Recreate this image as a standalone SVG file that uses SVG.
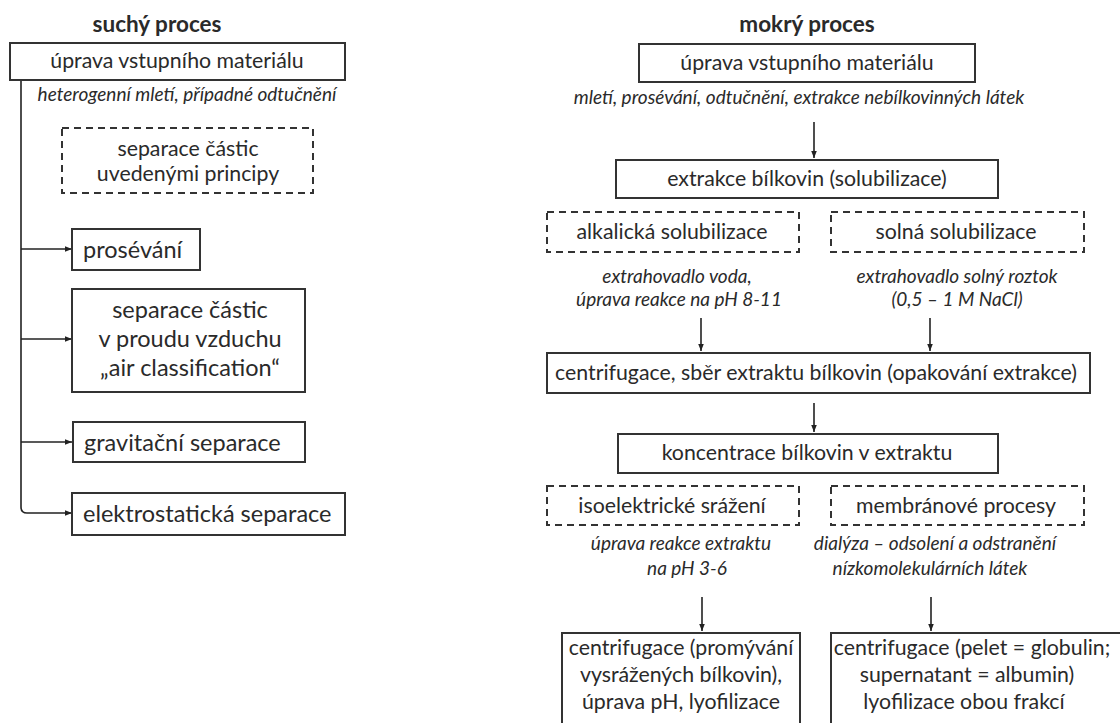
<svg xmlns="http://www.w3.org/2000/svg" width="1120" height="723" viewBox="0 0 1120 723">
<defs>
<marker id="ah" viewBox="0 0 10 10" refX="10" refY="5" markerWidth="7" markerHeight="7" markerUnits="userSpaceOnUse" orient="auto">
<path d="M0,1 L10,5 L0,9 z" fill="#222"/>
</marker>
<style>
.box{fill:#fff;stroke:#333;stroke-width:2}
.dash{fill:#fff;stroke:#333;stroke-width:2;stroke-dasharray:7 5}
.t{font-family:Lato,"Liberation Sans",sans-serif;font-size:21.3px;fill:#2a2a2a}
.tl{font-family:Lato,"Liberation Sans",sans-serif;font-size:23.5px;fill:#2a2a2a}
.c{text-anchor:middle}
.it{font-family:Lato,"Liberation Sans",sans-serif;font-size:19px;font-style:italic;fill:#2a2a2a;text-anchor:middle}
.h{font-family:Lato,"Liberation Sans",sans-serif;font-size:22.5px;font-weight:bold;fill:#2a2a2a;text-anchor:middle}
.ln{fill:none;stroke:#222;stroke-width:1.6}
</style>
</defs>
<rect width="1120" height="723" fill="#fff"/>

<g id="connectors">
<path class="ln" d="M21,80 V507 Q21,513 27,513 H72" marker-end="url(#ah)"/>
<path class="ln" d="M21,249 H72" marker-end="url(#ah)"/>
<path class="ln" d="M21,339 H72" marker-end="url(#ah)"/>
<path class="ln" d="M21,442 H72" marker-end="url(#ah)"/>
<path class="ln" d="M814,122 V158" marker-end="url(#ah)"/>
<path class="ln" d="M701,318 V351" marker-end="url(#ah)"/>
<path class="ln" d="M930,318 V351" marker-end="url(#ah)"/>
<path class="ln" d="M814,403 V432" marker-end="url(#ah)"/>
<path class="ln" d="M702,597 V631" marker-end="url(#ah)"/>
<path class="ln" d="M931,597 V631" marker-end="url(#ah)"/>
</g>

<!-- left column -->
<g id="title-dry"><text class="h" x="157" y="32">suchý proces</text></g>
<g id="dry-input">
<rect class="box" x="10" y="43" width="335" height="37"/>
<text class="t c" x="177" y="68">úprava vstupního materiálu</text>
</g>
<g id="dry-note"><text class="it" x="187" y="101">heterogenní mletí, případné odtučnění</text></g>
<g id="dry-separation">
<rect class="dash" x="62" y="128" width="251" height="65"/>
<text class="t c" x="188" y="156">separace částic</text>
<text class="t c" x="188" y="181">uvedenými principy</text>
</g>
<g id="dry-sieving">
<rect class="box" x="72" y="229" width="128" height="41"/>
<text class="tl" x="83" y="258">prosévání</text>
</g>
<g id="dry-air">
<rect class="box" x="72" y="289" width="233" height="103"/>
<text class="tl c" x="190" y="318">separace částic</text>
<text class="tl c" x="190" y="347">v proudu vzduchu</text>
<text class="tl c" x="190" y="376">„air classification“</text>
</g>
<g id="dry-gravity">
<rect class="box" x="73" y="422" width="232" height="40"/>
<text class="tl" x="84" y="451">gravitační separace</text>
</g>
<g id="dry-electro">
<rect class="box" x="72" y="493" width="273" height="42"/>
<text class="tl" x="83" y="522">elektrostatická separace</text>
</g>

<!-- right column -->
<g id="title-wet"><text class="h" x="807" y="32">mokrý proces</text></g>
<g id="wet-input">
<rect class="box" x="639" y="44" width="336" height="38"/>
<text class="t c" x="807" y="70">úprava vstupního materiálu</text>
</g>
<g id="wet-note"><text class="it" x="799" y="104">mletí, prosévání, odtučnění, extrakce nebílkovinných látek</text></g>
<g id="wet-extraction">
<rect class="box" x="616" y="160" width="382" height="38"/>
<text class="t c" x="807" y="186">extrakce bílkovin (solubilizace)</text>
</g>
<g id="wet-alkaline">
<rect class="dash" x="547" y="212" width="252" height="40"/>
<text class="t c" x="672" y="239">alkalická solubilizace</text>
</g>
<g id="wet-salt">
<rect class="dash" x="831" y="212" width="253" height="40"/>
<text class="t c" x="956" y="239">solná solubilizace</text>
</g>
<g id="wet-alk-note">
<text class="it" x="677" y="283">extrahovadlo voda,</text>
<text class="it" x="679" y="306">úprava reakce na pH 8-11</text>
</g>
<g id="wet-salt-note">
<text class="it" x="957" y="283">extrahovadlo solný roztok</text>
<text class="it" x="957" y="306">(0,5 – 1 M NaCl)</text>
</g>
<g id="wet-centrifuge">
<rect class="box" x="547" y="353" width="543" height="40"/>
<text class="t c" x="816" y="380">centrifugace, sběr extraktu bílkovin (opakování extrakce)</text>
</g>
<g id="wet-concentration">
<rect class="box" x="618" y="434" width="380" height="39"/>
<text class="t c" x="807" y="460">koncentrace bílkovin v extraktu</text>
</g>
<g id="wet-isoelectric">
<rect class="dash" x="547" y="486" width="252" height="39"/>
<text class="t c" x="672" y="513">isoelektrické srážení</text>
</g>
<g id="wet-membrane">
<rect class="dash" x="831" y="486" width="253" height="39"/>
<text class="t c" x="956" y="513">membránové procesy</text>
</g>
<g id="wet-iso-note">
<text class="it" x="681" y="550">úprava reakce extraktu</text>
<text class="it" x="687" y="575">na pH 3-6</text>
</g>
<g id="wet-mem-note">
<text class="it" x="935" y="550">dialýza – odsolení a odstranění</text>
<text class="it" x="930" y="575">nízkomolekulárních látek</text>
</g>
<g id="wet-iso-result">
<rect class="box" x="562" y="633" width="238" height="100"/>
<text class="t c" x="681" y="655">centrifugace (promývání</text>
<text class="t c" x="681" y="682">vysrážených bílkovin),</text>
<text class="t c" x="681" y="709">úprava pH, lyofilizace</text>
</g>
<g id="wet-mem-result">
<rect class="box" x="831" y="633" width="300" height="100"/>
<text class="t c" x="972" y="655">centrifugace (pelet = globulin;</text>
<text class="t c" x="967" y="682">supernatant = albumin)</text>
<text class="t c" x="964" y="709">lyofilizace obou frakcí</text>
</g>
</svg>
